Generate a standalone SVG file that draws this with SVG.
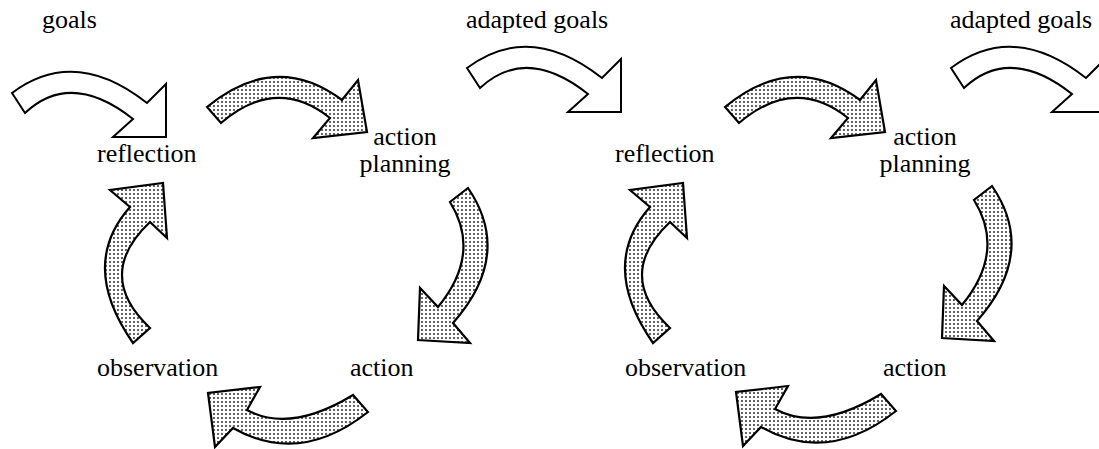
<svg xmlns="http://www.w3.org/2000/svg" width="1099" height="449" viewBox="0 0 1099 449">
<style>
.lbl{font-family:"Liberation Serif","Times New Roman",serif;font-size:26px;fill:#000}
.w{fill:#fff;stroke:#000;stroke-width:2;stroke-linejoin:miter}
.d{fill:url(#dots);stroke:#000;stroke-width:2.2;stroke-linejoin:miter}
</style>
<defs>
<pattern id="dots" width="4" height="4" patternUnits="userSpaceOnUse">
<rect width="4" height="4" fill="#fff"/>
<circle cx="2" cy="2" r="0.95" fill="#222"/>
</pattern>
<path id="aW" d="M12,93 Q74.5,46 147,103 L166,84 L166,137 L113,137 L133,119 Q71,70 25,113 Z"/>
<path id="aTop" d="M207,107 Q275.5,50.5 342,100 L358,80 L367,132 L313,138 L330,118 Q276.5,75.5 221,123 Z"/>
<path id="aRight" d="M468,188 Q513.5,254.5 453,323 L470,343 L418,340 L420,288 L438,307 Q482,253.5 450,202 Z"/>
<path id="aBottom" d="M368,412 Q299.5,466 233,428 L215,447 L208,393 L260,387 L247,410 Q290,433.5 353,395 Z"/>
<path id="aLeft" d="M133,343 Q78.5,265 130,207 L110,190 L163,183 L167,238 L150,222 Q94,275 150,328 Z"/>
</defs>
<g id="connectors">
<use href="#aW" class="w"/>
<use href="#aTop" class="d"/>
<use href="#aRight" class="d"/>
<use href="#aBottom" class="d"/>
<use href="#aLeft" class="d"/>
<use href="#aW" class="w" transform="translate(455,-25)"/>
<use href="#aTop" class="d" transform="translate(518,0)"/>
<use href="#aRight" class="d" transform="translate(524,-2)"/>
<use href="#aBottom" class="d" transform="translate(528,-1)"/>
<use href="#aLeft" class="d" transform="translate(520,0)"/>
<use href="#aW" class="w" transform="translate(939,-25)"/>
</g>
<g id="goals"><text class="lbl" x="42" y="28">goals</text></g>
<g id="adapted-goals-1"><text class="lbl" x="466" y="28">adapted goals</text></g>
<g id="adapted-goals-2"><text class="lbl" x="950" y="28">adapted goals</text></g>
<g id="reflection-1"><text class="lbl" x="97" y="162">reflection</text></g>
<g id="action-planning-1"><text class="lbl" x="405" y="145" text-anchor="middle">action</text><text class="lbl" x="405" y="172" text-anchor="middle">planning</text></g>
<g id="action-1"><text class="lbl" x="350" y="376">action</text></g>
<g id="observation-1"><text class="lbl" x="97" y="376">observation</text></g>
<g id="reflection-2"><text class="lbl" x="615" y="162">reflection</text></g>
<g id="action-planning-2"><text class="lbl" x="925" y="145" text-anchor="middle">action</text><text class="lbl" x="925" y="172" text-anchor="middle">planning</text></g>
<g id="action-2"><text class="lbl" x="883" y="376">action</text></g>
<g id="observation-2"><text class="lbl" x="625" y="376">observation</text></g>
</svg>
